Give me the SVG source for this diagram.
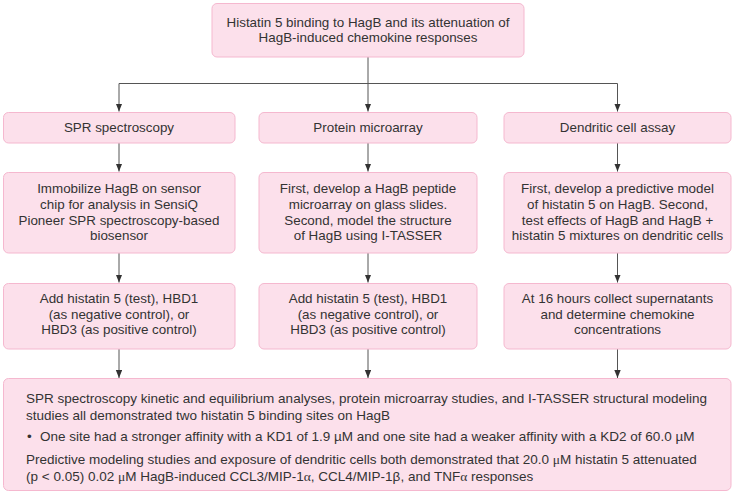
<svg xmlns="http://www.w3.org/2000/svg" width="734" height="495" viewBox="0 0 734 495">
<defs>
<marker id="ah" markerUnits="userSpaceOnUse" markerWidth="8" markerHeight="8" refX="8" refY="3.2" orient="auto">
<path d="M0,0 L8,3.2 L0,6.4 z" fill="#333"/>
</marker>
<style>
.box{fill:#fce0eb;stroke:#f5b8cf;stroke-width:1}
.t{font-family:"Liberation Sans",Arial,sans-serif;font-size:13.4px;fill:#333;text-anchor:middle}
.l{font-family:"Liberation Sans",Arial,sans-serif;font-size:13.5px;fill:#333}
.g{font-family:"Liberation Serif","Times New Roman",serif}
.c{fill:none;stroke:#555;stroke-width:1}
</style>
</defs>
<rect width="734" height="495" fill="#fff"/>
<g id="connectors">
<path class="c" d="M368,57 V111.5" marker-end="url(#ah)"/>
<path class="c" d="M119,83.5 H617.5"/>
<path class="c" d="M119,83.5 V111.5" marker-end="url(#ah)"/>
<path class="c" d="M617.5,83.5 V111.5" marker-end="url(#ah)"/>
<path class="c" d="M119,143 V171.5" marker-end="url(#ah)"/>
<path class="c" d="M368,143 V171.5" marker-end="url(#ah)"/>
<path class="c" d="M617.5,143 V171.5" marker-end="url(#ah)"/>
<path class="c" d="M119,253 V282.5" marker-end="url(#ah)"/>
<path class="c" d="M368,253 V282.5" marker-end="url(#ah)"/>
<path class="c" d="M617.5,253 V282.5" marker-end="url(#ah)"/>
<path class="c" d="M119,349 V378" marker-end="url(#ah)"/>
<path class="c" d="M368,349 V378" marker-end="url(#ah)"/>
<path class="c" d="M617.5,349 V378" marker-end="url(#ah)"/>
</g>
<g id="top">
<rect class="box" x="212" y="3.5" width="312" height="53.5" rx="5"/>
<text class="t" x="368" y="26.5">Histatin 5 binding to HagB and its attenuation of</text>
<text class="t" x="368" y="42">HagB-induced chemokine responses</text>
</g>
<g id="spr">
<rect class="box" x="3.5" y="112.5" width="231.5" height="30.5" rx="5"/>
<text class="t" x="119" y="132">SPR spectroscopy</text>
</g>
<g id="microarray">
<rect class="box" x="259" y="112.5" width="218" height="30.5" rx="5"/>
<text class="t" x="368" y="132">Protein microarray</text>
</g>
<g id="dendritic">
<rect class="box" x="504" y="112.5" width="227" height="30.5" rx="5"/>
<text class="t" x="617.5" y="132">Dendritic cell assay</text>
</g>
<g id="spr2">
<rect class="box" x="3.5" y="172.5" width="231.5" height="80.5" rx="5"/>
<text class="t" x="119" y="193.3">Immobilize HagB on sensor</text>
<text class="t" x="119" y="209">chip for analysis in SensiQ</text>
<text class="t" x="119" y="224.7">Pioneer SPR spectroscopy-based</text>
<text class="t" x="119" y="240.4">biosensor</text>
</g>
<g id="microarray2">
<rect class="box" x="259" y="172.5" width="218" height="80.5" rx="5"/>
<text class="t" x="368" y="193.3">First, develop a HagB peptide</text>
<text class="t" x="368" y="209">microarray on glass slides.</text>
<text class="t" x="368" y="224.7">Second, model the structure</text>
<text class="t" x="368" y="240.4">of HagB using I-TASSER</text>
</g>
<g id="dendritic2">
<rect class="box" x="504" y="172.5" width="227" height="80.5" rx="5"/>
<text class="t" x="617.5" y="193.3">First, develop a predictive model</text>
<text class="t" x="617.5" y="209">of histatin 5 on HagB. Second,</text>
<text class="t" x="617.5" y="224.7">test effects of HagB and HagB +</text>
<text class="t" x="617.5" y="240.4">histatin 5 mixtures on dendritic cells</text>
</g>
<g id="spr3">
<rect class="box" x="3.5" y="283.5" width="231.5" height="65.5" rx="5"/>
<text class="t" x="119" y="303.3">Add histatin 5 (test), HBD1</text>
<text class="t" x="119" y="318.8">(as negative control), or</text>
<text class="t" x="119" y="334.3">HBD3 (as positive control)</text>
</g>
<g id="microarray3">
<rect class="box" x="259" y="283.5" width="218" height="65.5" rx="5"/>
<text class="t" x="368" y="303.3">Add histatin 5 (test), HBD1</text>
<text class="t" x="368" y="318.8">(as negative control), or</text>
<text class="t" x="368" y="334.3">HBD3 (as positive control)</text>
</g>
<g id="dendritic3">
<rect class="box" x="504" y="283.5" width="227" height="65.5" rx="5"/>
<text class="t" x="617.5" y="303.3">At 16 hours collect supernatants</text>
<text class="t" x="617.5" y="318.8">and determine chemokine</text>
<text class="t" x="617.5" y="334.3">concentrations</text>
</g>
<g id="results">
<rect class="box" x="3.5" y="378.5" width="727.5" height="112" rx="5"/>
<text class="l" x="26" y="403">SPR spectroscopy kinetic and equilibrium analyses, protein microarray studies, and I-TASSER structural modeling</text>
<text class="l" x="26" y="420">studies all demonstrated two histatin 5 binding sites on HagB</text>
<text class="l" x="27" y="441">•</text>
<text class="l" x="40" y="441">One site had a stronger affinity with a KD1 of 1.9 µM and one site had a weaker affinity with a KD2 of 60.0 µM</text>
<text class="l" x="26" y="464">Predictive modeling studies and exposure of dendritic cells both demonstrated that 20.0 <tspan class="g">μ</tspan>M histatin 5 attenuated</text>
<text class="l" x="26" y="481">(p &lt; 0.05) 0.02 <tspan class="g">μ</tspan>M HagB-induced CCL3/MIP-1<tspan class="g">α</tspan>, CCL4/MIP-1β, and TNF<tspan class="g">α</tspan> responses</text>
</g>
</svg>
